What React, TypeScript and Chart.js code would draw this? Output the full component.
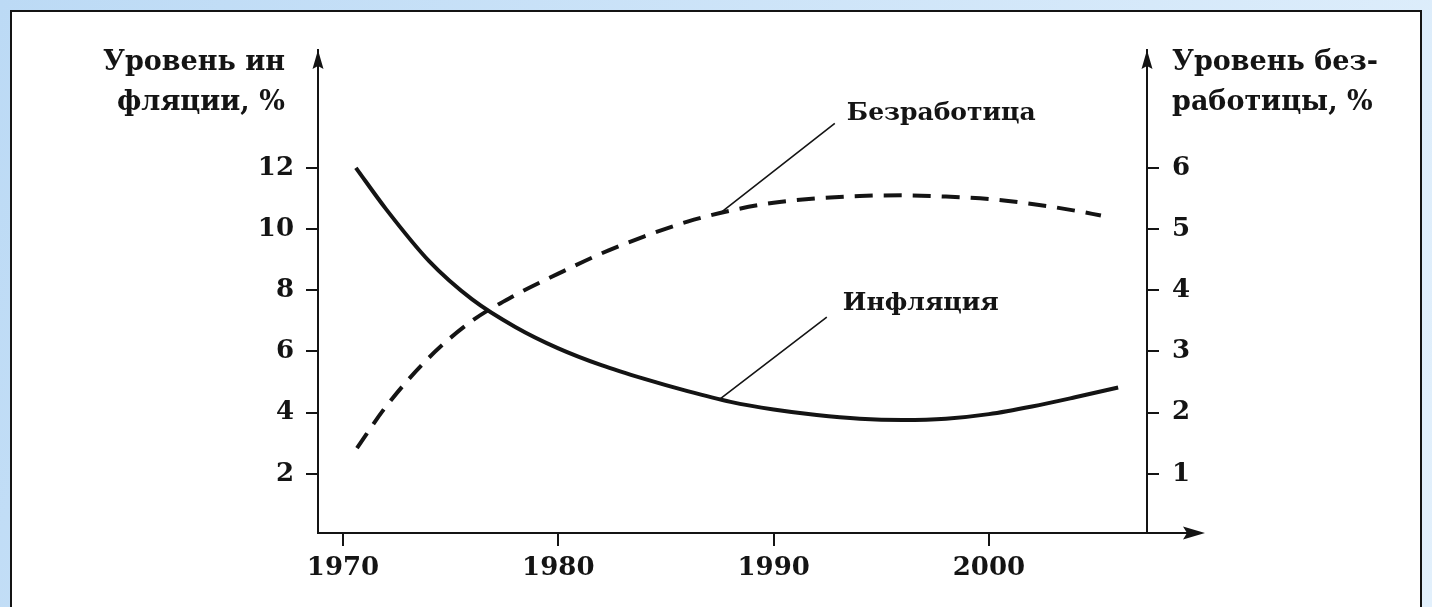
import React, { useEffect, useRef } from 'react';
import { Chart, registerables } from 'chart.js';

Chart.register(...registerables);

// ---- data ----
const inflationYears = [1970.6, 1972, 1974, 1976, 1978, 1980, 1982, 1984, 1986, 1988, 1990, 1992, 1994, 1996, 1998, 2000, 2002, 2004, 2006];
const inflationValues = [12.0, 10.65, 8.95, 7.7, 6.8, 6.1, 5.55, 5.1, 4.7, 4.35, 4.1, 3.92, 3.8, 3.76, 3.8, 3.95, 4.2, 4.5, 4.82];
const unemploymentYears = [1970.65, 1972, 1974, 1976, 1978, 1980, 1982, 1984, 1986, 1988, 1990, 1992, 1994, 1996, 1998, 2000, 2002, 2004, 2005.2];
const unemploymentValues = [1.42, 2.1, 2.9, 3.5, 3.92, 4.27, 4.6, 4.88, 5.12, 5.3, 5.43, 5.5, 5.54, 5.55, 5.53, 5.49, 5.41, 5.3, 5.22];
const yearTicks = [1970, 1980, 1990, 2000];
const inflationTicks = [2, 4, 6, 8, 10, 12];
const unemploymentTicks = [1, 2, 3, 4, 5, 6];

const leftTitle = ['Уровень ин', 'фляции, %'];
const rightTitle = ['Уровень без-', 'работицы, %'];
const unemploymentLabel = 'Безработица';
const inflationLabel = 'Инфляция';
// year on each curve where the leader line starts
const unemploymentLabelYear = 1987.5;
const inflationLabelYear = 1987.5;

const INK = '#141414';
const FONT_FAMILY = '"DejaVu Serif", serif';
const tickFont = { family: FONT_FAMILY, size: 26, weight: 'bold' as const };

function valueAt(years: number[], values: number[], yr: number) {
  for (let i = 1; i < years.length; i++) {
    if (yr <= years[i]) {
      const t = (yr - years[i - 1]) / (years[i] - years[i - 1]);
      return values[i - 1] + t * (values[i] - values[i - 1]);
    }
  }
  return values[values.length - 1];
}

const decorPlugin = {
  id: 'decor',
  beforeDraw(chart: any) {
    const { ctx, width: W, height: H } = chart;
    ctx.save();
    const g = ctx.createLinearGradient(0, 0, W, H);
    g.addColorStop(0, '#bcdaf5');
    g.addColorStop(1, '#e2f0fc');
    ctx.fillStyle = g;
    ctx.fillRect(0, 0, W, H);
    ctx.fillStyle = '#ffffff';
    ctx.fillRect(10, 10, W - 20, H - 10);
    ctx.strokeStyle = INK;
    ctx.lineWidth = 2;
    ctx.beginPath();
    ctx.moveTo(11, H);
    ctx.lineTo(11, 11);
    ctx.lineTo(W - 11, 11);
    ctx.lineTo(W - 11, H);
    ctx.stroke();
    ctx.restore();
  },
  afterDraw(chart: any) {
    const { ctx, chartArea: a, scales } = chart;
    const x = scales.x, yL = scales.yL, yR = scales.yR;
    ctx.save();
    ctx.fillStyle = INK;
    ctx.strokeStyle = INK;
    // x axis extension with arrow
    ctx.lineWidth = 2;
    ctx.beginPath();
    ctx.moveTo(a.right, a.bottom);
    ctx.lineTo(a.right + 45, a.bottom);
    ctx.stroke();
    const arrow = (tx: number, ty: number, dir: 'up' | 'right') => {
      ctx.beginPath();
      if (dir === 'up') {
        ctx.moveTo(tx, ty);
        ctx.lineTo(tx - 5.5, ty + 19);
        ctx.lineTo(tx, ty + 16);
        ctx.lineTo(tx + 5.5, ty + 19);
      } else {
        ctx.moveTo(tx, ty);
        ctx.lineTo(tx - 22, ty - 6.5);
        ctx.lineTo(tx - 18, ty);
        ctx.lineTo(tx - 22, ty + 6.5);
      }
      ctx.closePath();
      ctx.fill();
    };
    arrow(a.left, a.top, 'up');
    arrow(a.right, a.top, 'up');
    arrow(a.right + 58, a.bottom, 'right');

    // leader lines
    ctx.lineWidth = 1.6;
    const uX = x.getPixelForValue(unemploymentLabelYear);
    const uY = yR.getPixelForValue(valueAt(unemploymentYears, unemploymentValues, unemploymentLabelYear));
    const iX = x.getPixelForValue(inflationLabelYear);
    const iY = yL.getPixelForValue(valueAt(inflationYears, inflationValues, inflationLabelYear));
    ctx.beginPath();
    ctx.moveTo(uX, uY);
    ctx.lineTo(uX + 115, uY - 90);
    ctx.moveTo(iX, iY);
    ctx.lineTo(iX + 107, iY - 82);
    ctx.stroke();

    ctx.font = `bold 25px ${FONT_FAMILY}`;
    ctx.textBaseline = 'middle';
    ctx.textAlign = 'left';
    ctx.fillText(unemploymentLabel, uX + 127, uY - 100);
    ctx.fillText(inflationLabel, iX + 123, iY - 96);

    // axis titles
    ctx.font = `bold 27px ${FONT_FAMILY}`;
    ctx.fillText(leftTitle[0], 103, 63);
    ctx.fillText(leftTitle[1], 117, 103);
    ctx.fillText(rightTitle[0], 1172, 63);
    ctx.fillText(rightTitle[1], 1172, 103);
    ctx.restore();
  },
};

export default function App() {
  const ref = useRef<HTMLCanvasElement | null>(null);
  useEffect(() => {
    document.body.style.margin = '0';
    const canvas = ref.current;
    if (!canvas) return;
    const lineStyle = {
      borderColor: INK,
      borderWidth: 4,
      pointRadius: 0,
      fill: false,
      cubicInterpolationMode: 'monotone' as const,
    };
    const chart = new Chart(canvas, {
      type: 'line',
      data: {
        datasets: [
          {
            label: inflationLabel,
            data: inflationYears.map((yr, i) => ({ x: yr, y: inflationValues[i] })),
            yAxisID: 'yL',
            ...lineStyle,
          },
          {
            label: unemploymentLabel,
            data: unemploymentYears.map((yr, i) => ({ x: yr, y: unemploymentValues[i] })),
            yAxisID: 'yR',
            borderDash: [18, 11],
            ...lineStyle,
          },
        ],
      },
      options: {
        animation: false,
        responsive: false,
        devicePixelRatio: 1,
        layout: { padding: { top: 50, left: 0, right: 0, bottom: 0 } },
        plugins: { legend: { display: false }, tooltip: { enabled: false } },
        scales: {
          x: {
            type: 'linear',
            min: 1968.84,
            max: 2007.34,
            afterBuildTicks: (s: any) => {
              s.ticks = yearTicks.map((v) => ({ value: v }));
            },
            afterFit: (s: any) => {
              s.height = 74;
            },
            grid: { drawOnChartArea: false, drawTicks: true, tickLength: 13, color: INK, lineWidth: 2 },
            border: { display: true, color: INK, width: 2 },
            ticks: { color: INK, font: tickFont, padding: 7, maxRotation: 0, callback: (v: any) => String(v) },
          },
          yL: {
            type: 'linear',
            position: 'left',
            min: 0.065,
            max: 15.85,
            afterBuildTicks: (s: any) => {
              s.ticks = inflationTicks.map((v) => ({ value: v }));
            },
            afterFit: (s: any) => {
              s.width = 318;
            },
            grid: { drawOnChartArea: false, drawTicks: true, tickLength: 12, color: INK, lineWidth: 2 },
            border: { display: true, color: INK, width: 2 },
            ticks: { color: INK, font: tickFont, padding: 12, callback: (v: any) => String(v) },
          },
          yR: {
            type: 'linear',
            position: 'right',
            min: 0.0325,
            max: 7.925,
            afterBuildTicks: (s: any) => {
              s.ticks = unemploymentTicks.map((v) => ({ value: v }));
            },
            afterFit: (s: any) => {
              s.width = 285;
            },
            grid: { drawOnChartArea: false, drawTicks: true, tickLength: 12, color: INK, lineWidth: 2 },
            border: { display: true, color: INK, width: 2 },
            ticks: { color: INK, font: tickFont, padding: 13, callback: (v: any) => String(v) },
          },
        },
      },
      plugins: [decorPlugin],
    });
    return () => chart.destroy();
  }, []);
  return (
    <div style={{ width: 1432, height: 607 }}>
      <canvas ref={ref} width={1432} height={607} style={{ display: 'block', width: 1432, height: 607 }} />
    </div>
  );
}
